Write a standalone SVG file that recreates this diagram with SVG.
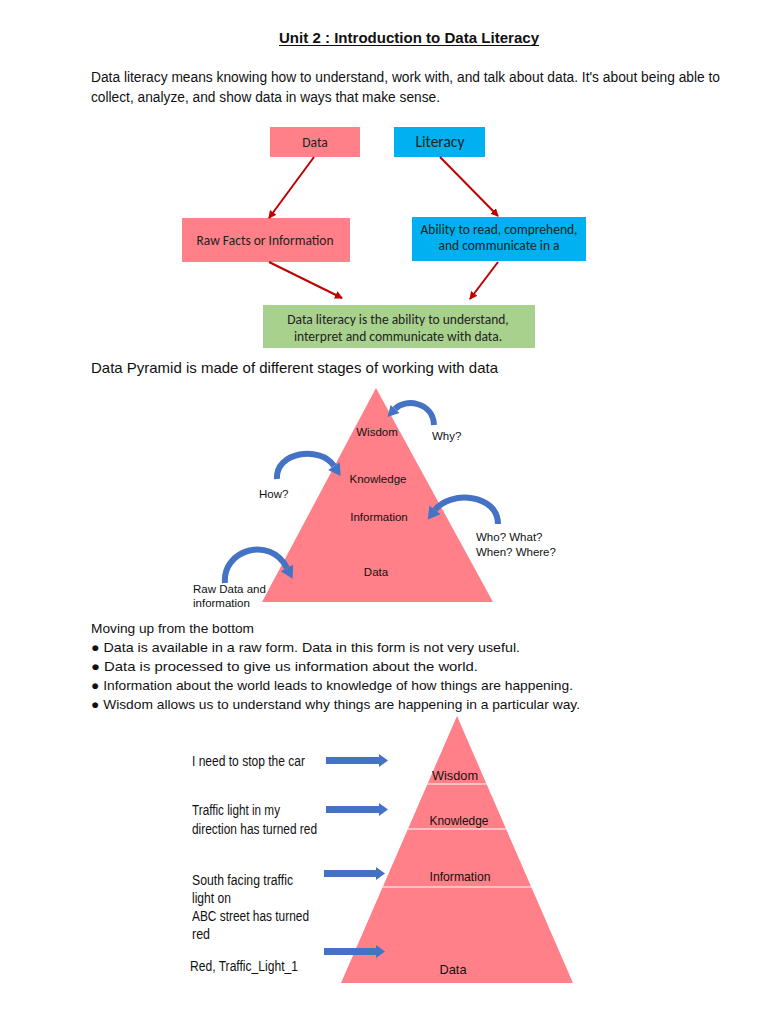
<svg xmlns="http://www.w3.org/2000/svg" width="768" height="1024" viewBox="0 0 768 1024">
<style>
.t{font-family:"Liberation Sans",Arial,sans-serif;fill:#111}
.c{font-family:Carlito,"Open Sans","Liberation Sans",sans-serif;fill:#222}
.pink{fill:#FF8088}
.cyan{fill:#00B0F0}
.green{fill:#A9D18E}
.red{stroke:#C00000;stroke-width:2;fill:none}
.curve{stroke:#4472C4;stroke-width:6;fill:none;stroke-linecap:butt}
.blue{fill:#4472C4}
</style>
<defs>
<marker id="ah" markerWidth="8" markerHeight="8" refX="7" refY="4" orient="auto" markerUnits="userSpaceOnUse"><path d="M0,0 L8,4 L0,8 Z" fill="#C00000"/></marker>
</defs>
<rect width="768" height="1024" fill="#fff"/>
<text class="t" x="409" y="43" font-size="14" font-weight="bold" text-anchor="middle" textLength="260" lengthAdjust="spacingAndGlyphs">Unit 2 : Introduction to Data Literacy</text>
<line x1="279" y1="45.5" x2="539" y2="45.5" stroke="#111" stroke-width="1"/>
<text class="t" x="91" y="82" font-size="14" textLength="629" lengthAdjust="spacingAndGlyphs">Data literacy means knowing how to understand, work with, and talk about data. It's about being able to</text>
<text class="t" x="91" y="102" font-size="14" textLength="349" lengthAdjust="spacingAndGlyphs">collect, analyze, and show data in ways that make sense.</text>

<g id="node-data"><rect class="pink" x="270" y="127" width="90" height="30"/><text class="c" x="315" y="147" font-size="13.5" text-anchor="middle">Data</text></g>
<g id="node-literacy"><rect class="cyan" x="394" y="127" width="91" height="30"/><text class="c" x="440" y="147" font-size="15.5" text-anchor="middle">Literacy</text></g>
<g id="node-raw"><rect class="pink" x="182" y="218" width="168" height="44"/><text class="c" x="265" y="245" font-size="13.5" text-anchor="middle">Raw Facts or Information</text></g>
<g id="node-ability"><rect class="cyan" x="412" y="217" width="174" height="44"/><text class="c" x="499" y="234" font-size="13.5" text-anchor="middle">Ability to read, comprehend,</text><text class="c" x="499" y="250" font-size="13.5" text-anchor="middle">and communicate in  a</text></g>
<g id="node-def"><rect class="green" x="263" y="305" width="272" height="43"/><text class="c" x="398" y="324" font-size="13.5" text-anchor="middle">Data literacy is the ability to understand,</text><text class="c" x="398" y="341" font-size="13.5" text-anchor="middle">interpret and communicate with data.</text></g>

<g id="connectors">
<line class="red" x1="314" y1="157" x2="269" y2="218" marker-end="url(#ah)"/>
<line class="red" x1="440" y1="157" x2="498" y2="216" marker-end="url(#ah)"/>
<line class="red" x1="269" y1="262" x2="342" y2="298" marker-end="url(#ah)"/>
<line class="red" x1="498" y1="262" x2="470" y2="299" marker-end="url(#ah)"/>
</g>

<text class="t" x="91" y="373" font-size="14.5" textLength="407" lengthAdjust="spacingAndGlyphs">Data Pyramid is made of different stages of working with data</text>

<g id="pyramid1">
<polygon class="pink" points="376,388 262,602 493,602"/>
<text class="t" x="377" y="436" font-size="11.5" text-anchor="middle">Wisdom</text>
<text class="t" x="378" y="483" font-size="11.5" text-anchor="middle">Knowledge</text>
<text class="t" x="379" y="521" font-size="11.5" text-anchor="middle">Information</text>
<text class="t" x="376" y="576" font-size="11.5" text-anchor="middle">Data</text>
<text class="t" x="432" y="440" font-size="11.5">Why?</text>
<text class="t" x="259" y="498" font-size="11.5">How?</text>
<text class="t" x="476" y="541" font-size="11.5">Who? What?</text>
<text class="t" x="476" y="556" font-size="11.5">When? Where?</text>
<text class="t" x="193" y="593" font-size="11.5">Raw Data and</text>
<text class="t" x="193" y="607" font-size="11.5">information</text>
</g>
<g id="curved-arrows">
<path class="curve" d="M434,425 C433,402 405,398 395,409"/>
<polygon class="blue" points="399.4,413.1 390.6,404.9 387.5,417"/>
<path class="curve" d="M277,479 C275,452 320,445 334,466"/>
<polygon class="blue" points="339.8,462.2 328.2,469.9 340.6,476"/>
<path class="curve" d="M498,524 C498,494 450,490 435,510"/>
<polygon class="blue" points="440.6,514.2 429.4,505.8 427.8,519.6"/>
<path class="curve" d="M225,583 C222,550 270,535 287,568"/>
<polygon class="blue" points="293.2,564.8 280.8,571.2 292.5,578.7"/>
</g>

<text class="t" x="91" y="633" font-size="13.5" textLength="163" lengthAdjust="spacingAndGlyphs">Moving up from the bottom</text>
<text class="t" x="91" y="652" font-size="13.5" textLength="429" lengthAdjust="spacingAndGlyphs">● Data is available in a raw form. Data in this form is not very useful.</text>
<text class="t" x="91" y="671" font-size="13.5" textLength="387" lengthAdjust="spacingAndGlyphs">● Data is processed to give us information about the world.</text>
<text class="t" x="91" y="690" font-size="13.5" textLength="482" lengthAdjust="spacingAndGlyphs">● Information about the world leads to knowledge of how things are happening.</text>
<text class="t" x="91" y="709" font-size="13.5" textLength="489" lengthAdjust="spacingAndGlyphs">● Wisdom allows us to understand why things are happening in a particular way.</text>

<g id="pyramid2">
<polygon class="pink" points="457,716 341,983 573,983"/>
<line x1="427.5" y1="784" x2="486.5" y2="784" stroke="#fff" stroke-width="1.2"/>
<line x1="407.9" y1="829" x2="506.1" y2="829" stroke="#fff" stroke-width="1.2"/>
<line x1="382.7" y1="887" x2="531.3" y2="887" stroke="#fff" stroke-width="1.2"/>
<text class="t" x="455" y="780" font-size="13" text-anchor="middle" textLength="46" lengthAdjust="spacingAndGlyphs">Wisdom</text>
<text class="t" x="459" y="825" font-size="13" text-anchor="middle" textLength="59" lengthAdjust="spacingAndGlyphs">Knowledge</text>
<text class="t" x="460" y="881" font-size="13" text-anchor="middle" textLength="61" lengthAdjust="spacingAndGlyphs">Information</text>
<text class="t" x="453" y="974" font-size="13" text-anchor="middle" textLength="27" lengthAdjust="spacingAndGlyphs">Data</text>
</g>
<g id="labels2">
<text class="t" x="192" y="766" font-size="14" textLength="113" lengthAdjust="spacingAndGlyphs">I need to stop the car</text>
<text class="t" x="192" y="815" font-size="14" textLength="88" lengthAdjust="spacingAndGlyphs">Traffic light in my</text>
<text class="t" x="192" y="834" font-size="14" textLength="125" lengthAdjust="spacingAndGlyphs">direction has turned red</text>
<text class="t" x="192" y="885" font-size="14" textLength="101" lengthAdjust="spacingAndGlyphs">South facing traffic</text>
<text class="t" x="192" y="903" font-size="14" textLength="39" lengthAdjust="spacingAndGlyphs">light on</text>
<text class="t" x="192" y="921" font-size="14" textLength="117" lengthAdjust="spacingAndGlyphs">ABC street has turned</text>
<text class="t" x="192" y="939" font-size="14" textLength="18" lengthAdjust="spacingAndGlyphs">red</text>
<text class="t" x="190" y="971" font-size="14" textLength="108" lengthAdjust="spacingAndGlyphs">Red, Traffic_Light_1</text>
</g>
<g id="block-arrows">
<polygon class="blue" points="326,757 379,757 379,754 388,760.5 379,767 379,764 326,764"/>
<polygon class="blue" points="326,806 379,806 379,803 388,809.5 379,816 379,813 326,813"/>
<polygon class="blue" points="324,870 376,870 376,867 385,873.5 376,880 376,877 324,877"/>
<polygon class="blue" points="324,948 376,948 376,945 385,951.5 376,958 376,955 324,955"/>
</g>
</svg>
